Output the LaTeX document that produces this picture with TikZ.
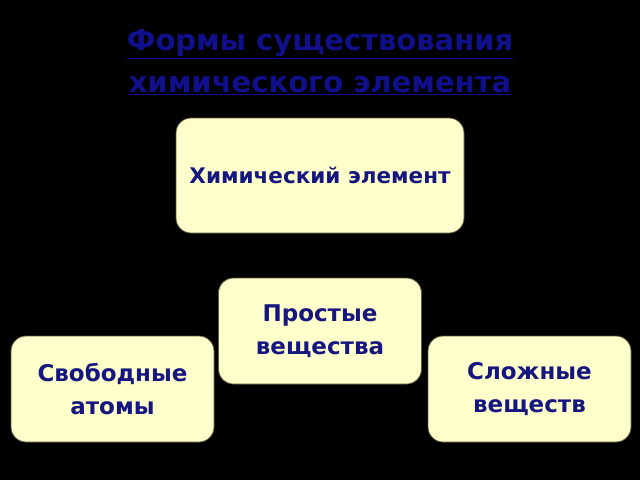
\documentclass[tikz,border=0pt]{standalone}
\usepackage{fontspec}
\setmainfont{DejaVu Sans}
\usetikzlibrary{positioning}
\definecolor{boxfill}{RGB}{255,255,204}
\definecolor{boxline}{RGB}{95,90,60}
\definecolor{textblue}{RGB}{22,22,128}
\definecolor{titleblue}{RGB}{16,16,140}

\begin{document}
\begin{tikzpicture}[node distance=150pt,on grid,
    form/.style={draw=boxline,line width=0.8pt,fill=boxfill,rounded corners=15pt,
        minimum width=203pt,minimum height=106pt,align=center,text=textblue,
        font=\bfseries\fontsize{23}{33}\selectfont},
    bigform/.style={form,minimum width=288pt,minimum height=115pt,
        font=\bfseries\fontsize{21.5}{26}\selectfont}]
    \fill[black] (0,0) rectangle (640pt,-480pt);
    \useasboundingbox (0,0) rectangle (640pt,-480pt);
    \node[align=center,text=titleblue,font=\bfseries\fontsize{29}{42}\selectfont]
        (title) at (320pt,-62pt) {\underline{Формы существования}\\\underline{химического элемента}};
    \node[bigform] (chem) at (320pt,-175.5pt) {Химический элемент};
    \node[form] (simple) [below=155.5pt of chem] {Простые\\вещества};
    \node[form] (free) [below left=58pt and 207.5pt of simple] {Свободные\\атомы};
    \node[form] (complex) [below right=58pt and 209.5pt of simple] {Сложные\\веществ};
\end{tikzpicture}
\end{document}
